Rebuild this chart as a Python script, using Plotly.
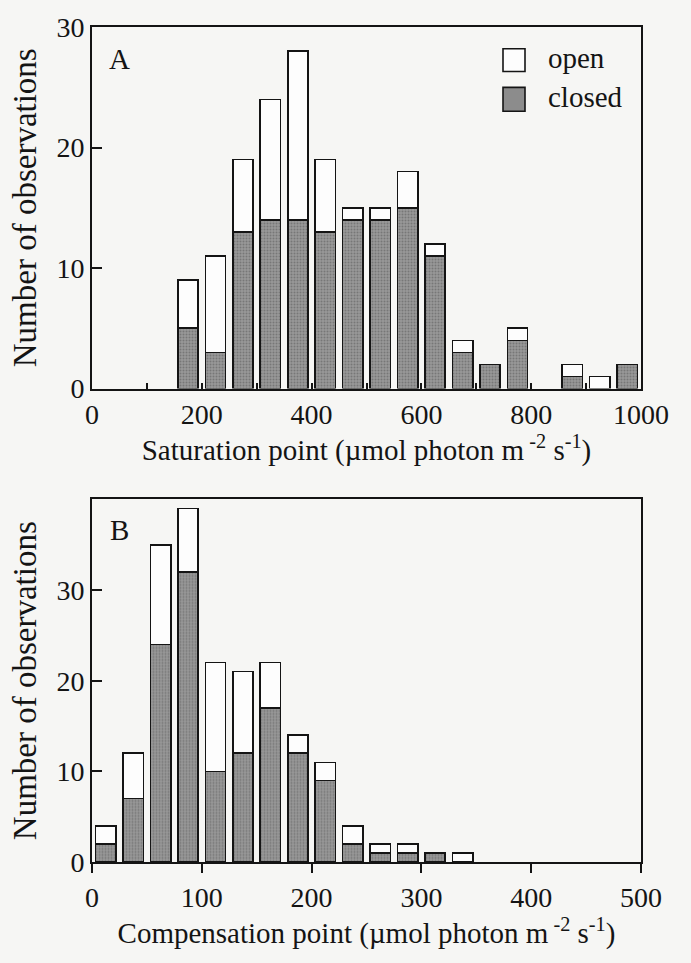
import plotly.graph_objects as go

# ---- Panel A: saturation point (bin centres, µmol photon m-2 s-1) ----
sat_centers = [175, 225, 275, 325, 375, 425, 475, 525, 575, 625, 675, 725, 775, 825, 875, 925, 975]
sat_closed = [5, 3, 13, 14, 14, 13, 14, 14, 15, 11, 3, 2, 4, None, 1, None, 2]
sat_open = [4, 8, 6, 10, 14, 6, 1, 1, 3, 1, 1, None, 1, None, 1, 1, None]

# ---- Panel B: compensation point ----
comp_centers = [12.5, 37.5, 62.5, 87.5, 112.5, 137.5, 162.5, 187.5, 212.5, 237.5, 262.5, 287.5, 312.5, 337.5]
comp_closed = [2, 7, 24, 32, 10, 12, 17, 12, 9, 2, 1, 1, 1, None]
comp_open = [2, 5, 11, 7, 12, 9, 5, 2, 2, 2, 1, 1, None, 1]

sat_ticks = [0, 200, 400, 600, 800, 1000]
comp_ticks = [0, 100, 200, 300, 400, 500]
count_ticks = [0, 10, 20, 30]

FONT = "Liberation Serif"
INK = "#141414"
BG = "#f6f6f4"
GRAY = "#8c8c8c"

closed_marker = dict(
    color=GRAY,
    pattern=dict(shape=".", fgcolor="#555555", bgcolor="#989898", size=3, solidity=0.35),
    line=dict(color=INK, width=1.6),
)
open_marker = dict(color="#fdfdfd", line=dict(color=INK, width=1.6))

fig = go.Figure()
fig.add_trace(go.Bar(x=sat_centers, y=sat_closed, name="closed", marker=closed_marker,
                     xaxis="x", yaxis="y", showlegend=False))
fig.add_trace(go.Bar(x=sat_centers, y=sat_open, name="open", marker=open_marker,
                     xaxis="x", yaxis="y", showlegend=False))
fig.add_trace(go.Bar(x=comp_centers, y=comp_closed, name="closed", marker=closed_marker,
                     xaxis="x2", yaxis="y2", showlegend=False))
fig.add_trace(go.Bar(x=comp_centers, y=comp_open, name="open", marker=open_marker,
                     xaxis="x2", yaxis="y2", showlegend=False))

W, H = 691, 963
L, R, T, B = 92, 50, 19, 101
ph = H - T - B


def py(y):
    return (H - B - y) / ph


def px(x):
    return (x - L) / (W - L - R)


axis_common = dict(showline=True, linecolor=INK, linewidth=2, mirror=True,
                   showgrid=False, zeroline=False, tickcolor=INK, tickwidth=1.6,
                   tickfont=dict(family=FONT, size=28, color=INK))

fig.update_layout(
    width=W, height=H,
    margin=dict(l=L, r=R, t=T, b=B),
    paper_bgcolor=BG, plot_bgcolor=BG,
    barmode="stack", bargap=0.26,
    font=dict(family=FONT, color=INK),
    xaxis=dict(domain=[0, 1], anchor="y", range=[0, 1000], tickvals=sat_ticks,
               ticks="inside", ticklen=6,
               minor=dict(dtick=100, tick0=0, ticks="inside", ticklen=6, tickwidth=1.6, tickcolor=INK),
               title=dict(text="Saturation point (µmol photon m<sup> -2</sup> s<sup>-1</sup>)",
                          font=dict(family=FONT, size=29, color=INK), standoff=0),
               **axis_common),
    yaxis=dict(domain=[py(384), 1.0], anchor="x", range=[0, 30], tickvals=count_ticks,
               ticks="inside", ticklen=10,
               title=dict(text="Number of observations", font=dict(family=FONT, size=33, color=INK),
                          standoff=10),
               **axis_common),
    xaxis2=dict(domain=[0, 1], anchor="y2", range=[0, 500], tickvals=comp_ticks,
                ticks="outside", ticklen=9,
                title=dict(text="Compensation point (µmol photon m<sup> -2</sup> s<sup>-1</sup>)",
                           font=dict(family=FONT, size=29, color=INK), standoff=8),
                **axis_common),
    yaxis2=dict(domain=[0, py(496)], anchor="x2", range=[0, 40], tickvals=count_ticks,
                ticks="inside", ticklen=10,
                title=dict(text="Number of observations", font=dict(family=FONT, size=33, color=INK),
                           standoff=10),
                **axis_common),
)

# panel letters
fig.add_annotation(text="A", xref="paper", yref="paper", x=px(119), y=py(51),
                   xanchor="center", yanchor="middle",
                   showarrow=False, font=dict(family=FONT, size=29, color=INK))
fig.add_annotation(text="B", xref="paper", yref="paper", x=px(119), y=py(527),
                   xanchor="center", yanchor="middle",
                   showarrow=False, font=dict(family=FONT, size=29, color=INK))

# legend (boxes + labels)
fig.add_shape(type="rect", xref="paper", yref="paper", x0=px(503), x1=px(525), y0=py(64), y1=py(41),
              fillcolor="#fdfdfd", line=dict(color=INK, width=1.6))
fig.add_shape(type="rect", xref="paper", yref="paper", x0=px(503), x1=px(525), y0=py(104), y1=py(80),
              fillcolor=GRAY, line=dict(color=INK, width=1.6))
fig.add_annotation(text="open", xref="paper", yref="paper", x=px(546), y=py(50),
                   xanchor="left", yanchor="middle",
                   showarrow=False, font=dict(family=FONT, size=29, color=INK))
fig.add_annotation(text="closed", xref="paper", yref="paper", x=px(546), y=py(90),
                   xanchor="left", yanchor="middle",
                   showarrow=False, font=dict(family=FONT, size=29, color=INK))

fig.write_html("out.html")
